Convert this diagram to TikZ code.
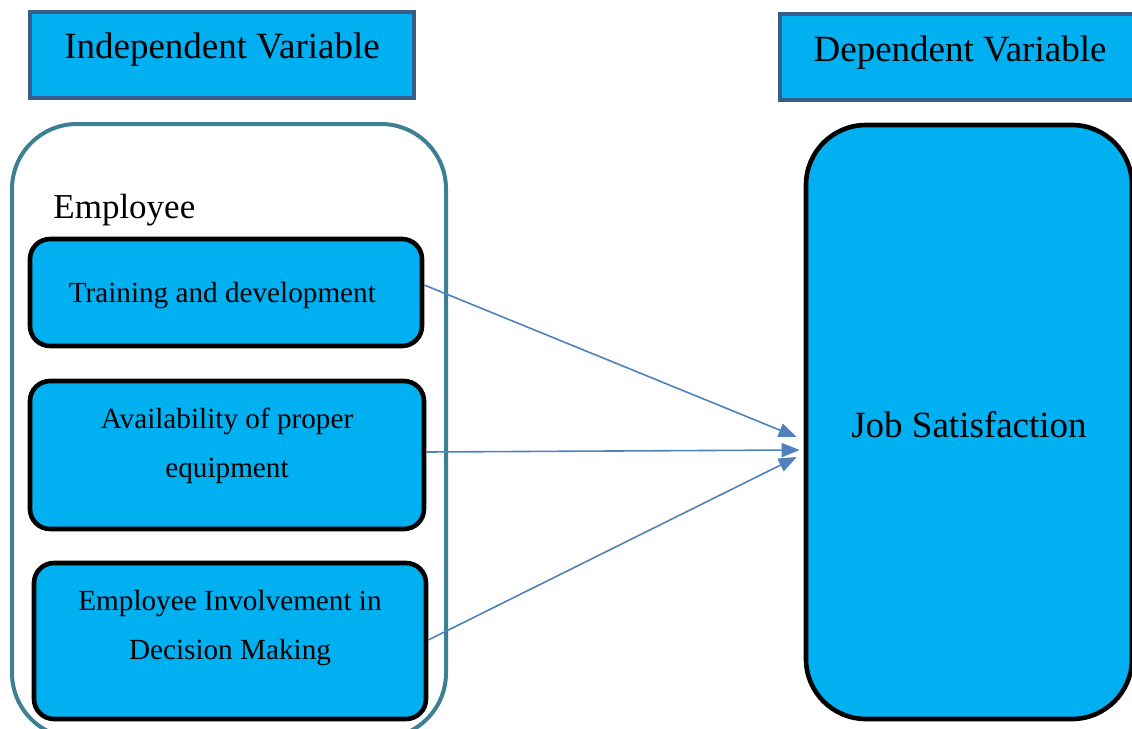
\documentclass[tikz,border=0pt]{standalone}
\usepackage{fontspec}
\setmainfont{Liberation Serif}
\usetikzlibrary{arrows.meta}

\definecolor{boxblue}{RGB}{0,176,240}
\definecolor{headerline}{RGB}{56,93,138}
\definecolor{groupteal}{RGB}{60,128,146}
\definecolor{arrowblue}{RGB}{79,129,189}

\begin{document}
\begin{tikzpicture}[x=0.5pt, y=-0.5pt,
	header/.style={draw=headerline, line width=2pt, fill=boxblue,
		inner sep=0pt, text height=23.5pt, text depth=19.5pt,
		font=\fontsize{18.5}{22}\selectfont},
	factor/.style={draw=black, line width=2.3pt, fill=boxblue,
		rounded corners=10pt, inner sep=0pt, align=center,
		minimum width=196pt, font=\fontsize{14.6}{24.5}\selectfont},
	link/.style={-{Triangle[length=9pt,width=7pt]}, arrowblue, line width=0.8pt}
]

\clip (0,0) rectangle (1132,729);

% Independent variable
\node [header,
	minimum width=192pt
] (independent) at (222,54.5) {
Independent Variable
};

% Dependent variable
\node [header,
	minimum width=180pt
] (dependent) at (960,57) {
Dependent Variable
};

% Employee group
\node [draw=groupteal,
	line width=2pt,
	rounded corners=32.5pt,
	minimum width=217pt,
	minimum height=307pt
] (employee_group) at (229,431) {};
\node [anchor=base west,
	inner sep=0pt,
	font=\fontsize{17.5}{20}\selectfont
] (employee_label) at (53,218) {
Employee
};

% Training and development
\node [factor,
	text height=31.8pt,
	text depth=21.7pt
] (training) at (226,292.5) {
Training and development
};

% Availability of proper equipment
\node [factor,
	minimum width=197pt,
	text height=48pt,
	text depth=26pt
] (equipment) at (227,455) {
Availability of proper\\equipment
};

% Employee involvement in decision making
\node [factor,
	text height=48pt,
	text depth=30pt
] (involvement) at (230,641) {
Employee Involvement in\\Decision Making
};

% Job satisfaction
\node [draw,
	line width=2.3pt,
	fill=boxblue,
	rounded corners=30pt,
	minimum width=163pt,
	inner sep=0pt,
	text height=156pt,
	text depth=141pt,
	font=\fontsize{18.5}{22}\selectfont
] (job_satisfaction) at (969,422) {
Job Satisfaction
};

% Arrows
\draw[link] ([yshift=3.75pt] training.east) -- ([xshift=-3.5pt, yshift=-7.5pt] job_satisfaction.west);
\draw[link] ([yshift=1.5pt] equipment.east) -- ([xshift=-2pt, yshift=-14pt] job_satisfaction.west);
\draw[link] ([yshift=0.5pt] involvement.east) -- ([xshift=-3.5pt, yshift=-17.5pt] job_satisfaction.west);

\end{tikzpicture}
\end{document}
